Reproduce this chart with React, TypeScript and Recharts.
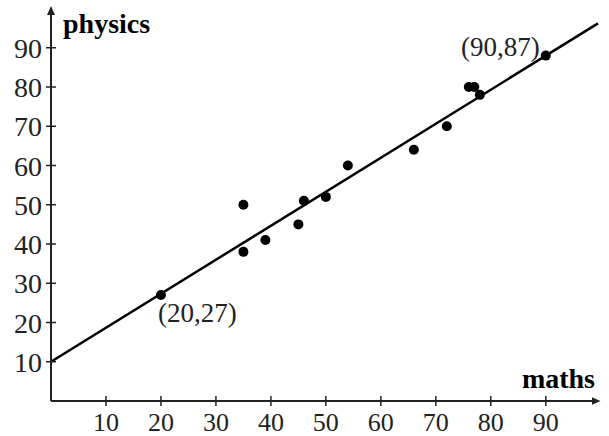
import { ScatterChart, Scatter, XAxis, YAxis, ReferenceLine, ReferenceDot } from "recharts"

const maths = [20, 35, 35, 39, 45, 46, 50, 54, 66, 72, 76, 77, 78, 90]
const physics = [27, 38, 50, 41, 45, 51, 52, 60, 64, 70, 80, 80, 78, 88]
const xTicks = [10, 20, 30, 40, 50, 60, 70, 80, 90]
const yTicks = [10, 20, 30, 40, 50, 60, 70, 80, 90]
const fitStart = { x: 0, y: 10 }
const fitEnd = { x: 99.5, y: 96.2 }
const calloutX = [20, 90]
const calloutY = [27, 88]
const calloutText = ["(20,27)", "(90,87)"]

const points = maths.map((x, i) => ({ x, y: physics[i] }))

const FONT = "'Liberation Serif', 'DejaVu Serif', serif"
const INK = "#222"

// label offsets relative to the marked point
const calloutStyle = [
    { dx: -3, dy: 27, anchor: "start" },
    { dx: -6, dy: 0, anchor: "end" },
]

const YTick = ({ x, y, payload }: any) => (
    <g>
        <line x1={x + 4} x2={x + 14} y1={y} y2={y} stroke={INK} strokeWidth={1.5} />
        <text x={x} y={y + 10} textAnchor="end" fontFamily={FONT} fontSize={28} fill={INK}>
            {payload.value}
        </text>
    </g>
)

const XTick = ({ x, y, payload }: any) => (
    <g>
        <line x1={x} x2={x} y1={y - 14} y2={y - 4} stroke={INK} strokeWidth={1.5} />
        <text x={x} y={y + 21} textAnchor="middle" fontFamily={FONT} fontSize={26} fill={INK}>
            {payload.value}
        </text>
    </g>
)

const Dot = ({ cx, cy }: any) => <circle cx={cx} cy={cy} r={5} fill="#000" />

export default function App() {
    return (
        <div style={{ position: "absolute", left: 0, top: 0, background: "#fff" }}>
            <ScatterChart width={609} height={436} margin={{ top: 8.5, right: 11, left: 0, bottom: 0 }}>
                <defs>
                    <marker id="arrowEnd" markerUnits="userSpaceOnUse" markerWidth={10} markerHeight={8} refX={6.5} refY={4} orient="auto">
                        <path d="M0,0 L9,4 L0,8 z" fill={INK} />
                    </marker>
                    <marker id="arrowStart" markerUnits="userSpaceOnUse" markerWidth={10} markerHeight={8} refX={2.5} refY={4} orient="auto">
                        <path d="M9,0 L0,4 L9,8 z" fill={INK} />
                    </marker>
                </defs>
                <XAxis
                    type="number"
                    dataKey="x"
                    domain={[0, 99.5]}
                    allowDataOverflow
                    ticks={xTicks}
                    interval={0}
                    height={35}
                    tickSize={5}
                    tickMargin={4}
                    tickLine={false}
                    tick={XTick}
                    axisLine={{ stroke: INK, strokeWidth: 2, markerEnd: "url(#arrowEnd)" }}
                    label={(props: any) => (
                        <text
                            x={props.viewBox.x + props.viewBox.width - 3}
                            y={props.viewBox.y - 13}
                            textAnchor="end"
                            fontFamily={FONT}
                            fontSize={28}
                            fontWeight="bold"
                            fill="#000"
                        >
                            maths
                        </text>
                    )}
                />
                <YAxis
                    type="number"
                    dataKey="y"
                    domain={[0, 100]}
                    allowDataOverflow
                    ticks={yTicks}
                    interval={0}
                    width={51}
                    tickSize={5}
                    tickMargin={4}
                    tickLine={false}
                    tick={YTick}
                    axisLine={{ stroke: INK, strokeWidth: 2, markerStart: "url(#arrowStart)" }}
                    label={(props: any) => (
                        <text
                            x={props.viewBox.x + props.viewBox.width + 12}
                            y={props.viewBox.y + 24.5}
                            textAnchor="start"
                            fontFamily={FONT}
                            fontSize={28}
                            fontWeight="bold"
                            fill="#000"
                        >
                            physics
                        </text>
                    )}
                />
                <ReferenceLine
                    segment={[fitStart, fitEnd]}
                    stroke="#000"
                    strokeWidth={2.5}
                    ifOverflow="visible"
                />
                <Scatter data={points} shape={Dot} isAnimationActive={false} />
                {calloutX.map((cx, i) => (
                    <ReferenceDot
                        key={calloutText[i]}
                        x={cx}
                        y={calloutY[i]}
                        r={0}
                        ifOverflow="visible"
                        shape={(p: any) => (
                            <text
                                x={p.cx + calloutStyle[i].dx}
                                y={p.cy + calloutStyle[i].dy}
                                textAnchor={calloutStyle[i].anchor as any}
                                fontFamily={FONT}
                                fontSize={27}
                                fill={INK}
                            >
                                {calloutText[i]}
                            </text>
                        )}
                    />
                ))}
            </ScatterChart>
        </div>
    )
}
